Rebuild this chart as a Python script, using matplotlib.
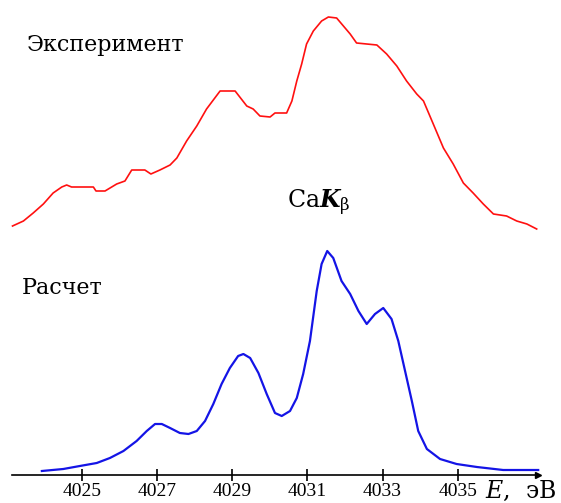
import numpy as np
import matplotlib.pyplot as plt

plt.rcParams['mathtext.fontset'] = 'dejavuserif'

# energy (eV) and intensity (arb. units, baseline at 0)
e_exp = [4023.16, 4023.45, 4023.71, 4023.98, 4024.24, 4024.47, 4024.60, 4024.73,
         4025.31, 4025.38, 4025.62, 4025.93, 4026.15, 4026.33, 4026.68, 4026.84,
         4027.08, 4027.35, 4027.53, 4027.79, 4028.06, 4028.32, 4028.68, 4029.08,
         4029.39, 4029.56, 4029.74, 4030.01, 4030.14, 4030.45, 4030.59, 4030.72,
         4030.85, 4030.98, 4031.16, 4031.38, 4031.56, 4031.78, 4031.96, 4032.14,
         4032.31, 4032.58, 4032.85, 4033.11, 4033.38, 4033.64, 4033.91, 4034.09,
         4034.35, 4034.62, 4034.88, 4035.15, 4035.41, 4035.68, 4035.95, 4036.30,
         4036.57, 4036.84, 4037.10]
i_exp = [249, 254, 262, 271, 282, 288, 290, 288, 288, 284, 284, 291, 294, 305,
         305, 301, 305, 310, 317, 334, 349, 366, 384, 384, 369, 366, 359, 358,
         362, 362, 374, 394, 411, 431, 444, 454, 458, 457, 449, 441, 432, 431,
         430, 421, 409, 394, 381, 374, 351, 327, 311, 292, 282, 271, 261, 259,
         254, 251, 246]

e_calc = [4023.94, 4024.51, 4024.95, 4025.40, 4025.75, 4026.11, 4026.46, 4026.73,
          4026.95, 4027.13, 4027.35, 4027.61, 4027.84, 4028.06, 4028.28, 4028.50,
          4028.72, 4028.94, 4029.16, 4029.30, 4029.48, 4029.70, 4029.92, 4030.14,
          4030.32, 4030.54, 4030.72, 4030.89, 4031.07, 4031.25, 4031.38, 4031.53,
          4031.69, 4031.91, 4032.14, 4032.36, 4032.58, 4032.80, 4033.02, 4033.24,
          4033.42, 4033.60, 4033.78, 4033.95, 4034.18, 4034.53, 4034.97, 4035.51,
          4036.21, 4037.14]
i_calc = [4, 6, 9, 12, 17, 24, 34, 44, 51, 51, 47, 42, 41, 44, 54, 71, 91, 107,
          119, 121, 117, 102, 81, 62, 59, 64, 77, 101, 134, 184, 211, 224, 217,
          194, 181, 164, 151, 161, 167, 156, 134, 104, 74, 44, 26, 16, 11, 8, 5, 5]

ticks = [4025, 4027, 4029, 4031, 4033, 4035]

fig = plt.figure(figsize=(5.61, 5.03), dpi=100)
ax = fig.add_axes([0, 0, 1, 1])
ax.set_xlim(4022.827, 4037.747)
ax.set_ylim(-28, 475)

ax.plot(e_exp, i_exp, color='#ff1010', lw=1.2)
ax.plot(e_calc, i_calc, color='#1414e6', lw=1.6)

for s in ['top', 'right', 'left']:
    ax.spines[s].set_visible(False)
ax.spines['bottom'].set_position(('data', 0))
ax.spines['bottom'].set_bounds(4023.15, 4037.14)
ax.spines['bottom'].set_linewidth(1.2)
ax.plot(4037.14, 0, marker='>', color='black', ms=5, clip_on=False)
ax.set_yticks([])
ax.set_xticks(ticks)
ax.set_xticklabels([str(t) for t in ticks], family='Liberation Serif',
                   fontsize=14)
ax.tick_params(axis='x', direction='inout', length=9, width=1.2, pad=1)

ax.text(0.864, 0.024, '$E$,  эВ', family='DejaVu Serif', fontsize=17,
        ha='left', va='center', transform=ax.transAxes)
ax.text(0.048, 0.911, 'Эксперимент', family='DejaVu Serif', fontsize=16,
        ha='left', va='center', transform=ax.transAxes)
ax.text(0.039, 0.427, 'Расчет', family='DejaVu Serif', fontsize=16,
        ha='left', va='center', transform=ax.transAxes)
ax.text(0.512, 0.586, r'Ca$\mathbfit{K}_{\mathrm{β}}$', family='DejaVu Serif',
        fontsize=17, ha='left', va='baseline', transform=ax.transAxes)

fig.savefig('out.png', dpi=100)
